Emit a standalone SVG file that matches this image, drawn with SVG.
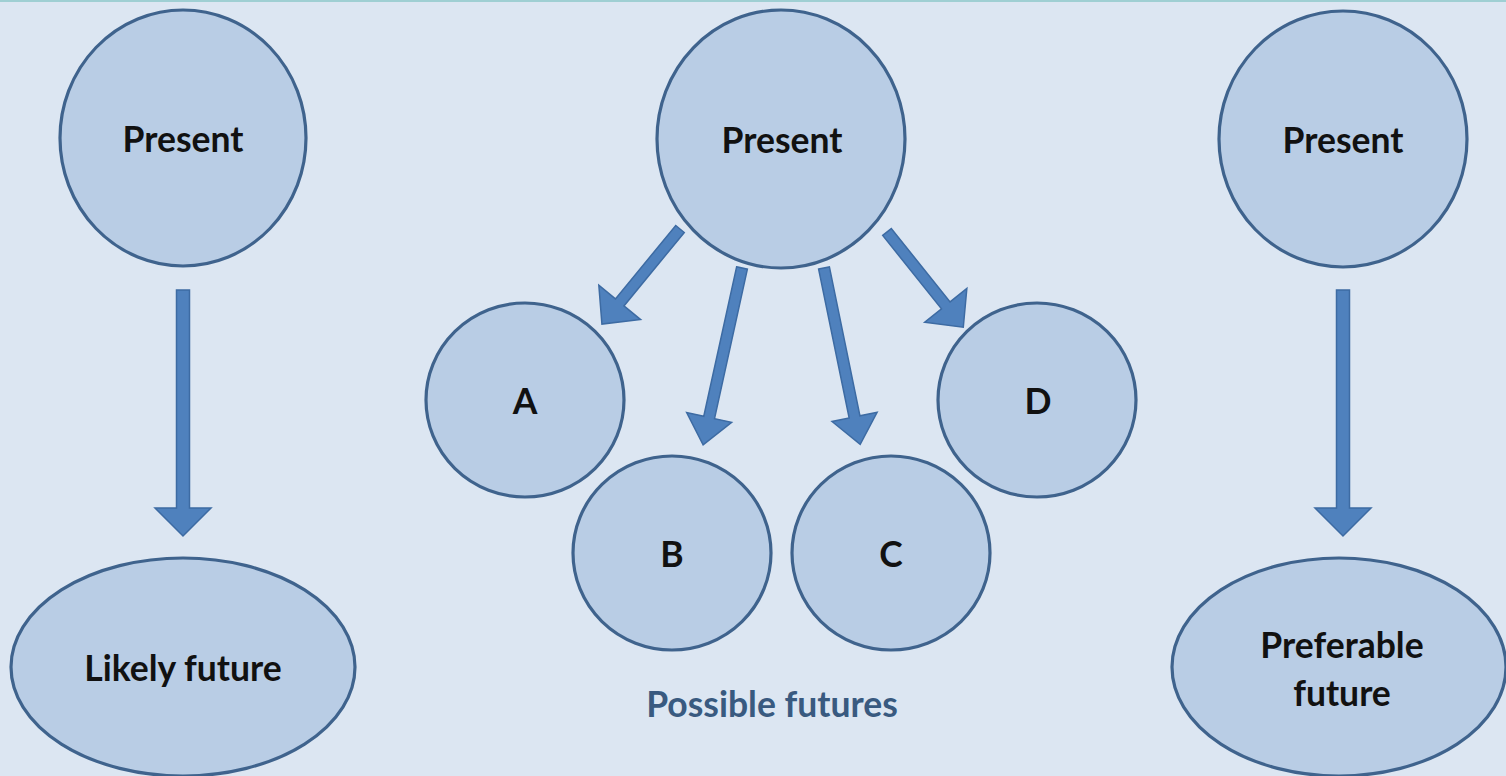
<svg xmlns="http://www.w3.org/2000/svg" width="1506" height="776" viewBox="0 0 1506 776">
<defs>
<style>
.node{fill:#b9cde5;stroke:#3f638d;stroke-width:3.2}
.lbl{font-family:Lato,"Open Sans","Liberation Sans",sans-serif;font-weight:bold;font-size:35.5px;fill:#111;text-anchor:middle}
.cap{font-family:Lato,"Open Sans","Liberation Sans",sans-serif;font-weight:bold;font-size:35.5px;fill:#395a80;text-anchor:middle}
.arr{fill:#4f81bd;stroke:#3d6ba3;stroke-width:1.5;stroke-linejoin:miter}
</style>
</defs>
<rect x="0" y="0" width="1506" height="776" fill="#dce6f2"/>
<rect x="0" y="0" width="1506" height="2" fill="#9fcfd3"/>
<g id="connectors">
<polygon class="arr" points="-6.5,0 6.5,0 6.5,218 28,218 0,246 -28,218 -6.5,218 -6.5,0" transform="translate(183,290)"/>
<polygon class="arr" points="-6.5,0 6.5,0 6.5,218 28,218 0,246 -28,218 -6.5,218 -6.5,0" transform="translate(1343,290)"/>
<polygon class="arr" points="-5.5,0 5.5,0 5.5,95 27,95 0,123 -27,95 -5.5,95" transform="translate(680,229) rotate(39.4)"/>
<polygon class="arr" points="-5.5,0 5.5,0 5.5,153 23,153 0,181 -23,153 -5.5,153" transform="translate(742,268) rotate(12.4)"/>
<polygon class="arr" points="-5.5,0 5.5,0 5.5,152 23,152 0,180 -23,152 -5.5,152" transform="translate(824,268) rotate(-11.6)"/>
<polygon class="arr" points="-5.5,0 5.5,0 5.5,94 27,94 0,122 -27,94 -5.5,94" transform="translate(887,232) rotate(-38.7)"/>
</g>
<g id="present-left"><ellipse class="node" cx="183" cy="138" rx="123" ry="128"/><text class="lbl" x="183" y="152">Present</text></g>
<g id="present-mid"><ellipse class="node" cx="781" cy="139" rx="124" ry="129"/><text class="lbl" x="782" y="153">Present</text></g>
<g id="present-right"><ellipse class="node" cx="1343" cy="139" rx="124" ry="128"/><text class="lbl" x="1343" y="153">Present</text></g>
<g id="likely"><ellipse class="node" cx="183" cy="667" rx="172" ry="109"/><text class="lbl" x="183" y="681">Likely future</text></g>
<g id="preferable"><ellipse class="node" cx="1339" cy="667" rx="167" ry="109"/><text class="lbl" x="1342" y="658">Preferable</text><text class="lbl" x="1342" y="706">future</text></g>
<g id="A"><ellipse class="node" cx="525" cy="400" rx="99" ry="97"/><text class="lbl" x="525" y="414">A</text></g>
<g id="B"><ellipse class="node" cx="672" cy="553" rx="99" ry="97"/><text class="lbl" x="672" y="567">B</text></g>
<g id="C"><ellipse class="node" cx="891" cy="553" rx="99" ry="97"/><text class="lbl" x="891" y="567">C</text></g>
<g id="D"><ellipse class="node" cx="1037" cy="400" rx="99" ry="97"/><text class="lbl" x="1038" y="414">D</text></g>
<text class="cap" x="772" y="717">Possible futures</text>
</svg>
